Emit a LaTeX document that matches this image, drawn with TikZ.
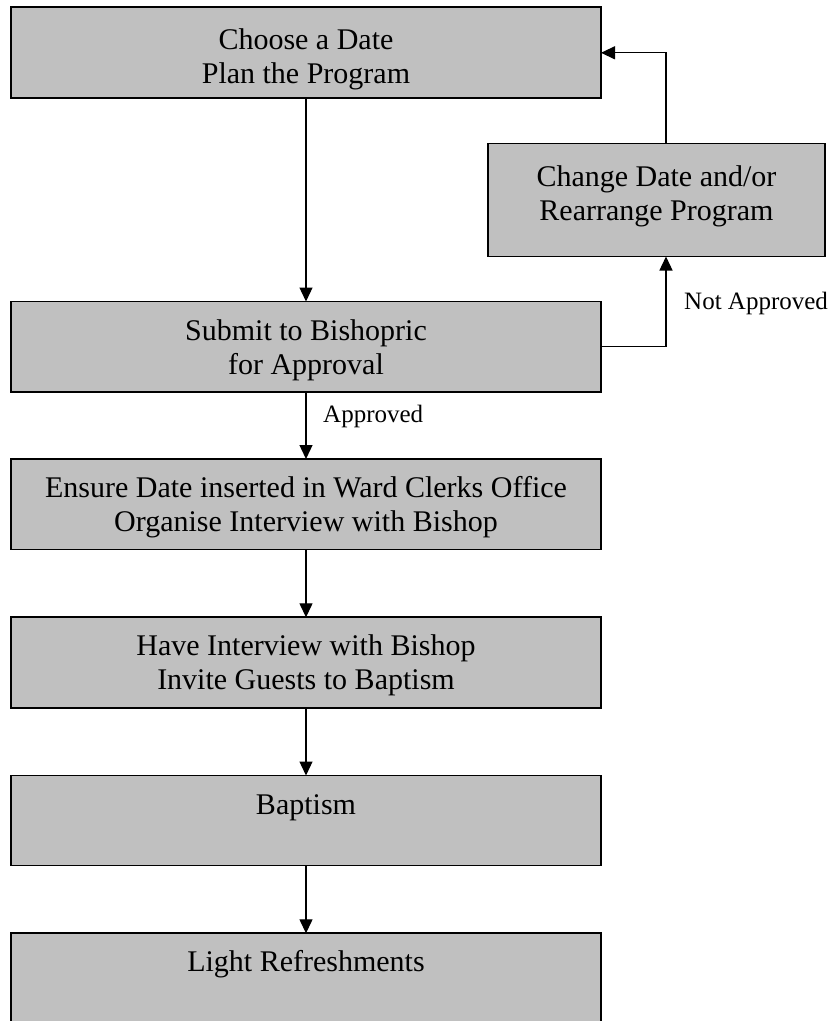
\documentclass[tikz,border=0pt]{standalone}
\usepackage{fontspec}
\setmainfont{Liberation Serif}
\usetikzlibrary{arrows.meta,calc}
\definecolor{boxgray}{RGB}{192,192,192}
\newcommand{\bxtext}[4][14.7pt]{\parbox[c][#3][t]{#2}{\centering\fontsize{30}{34}\selectfont\vspace*{#1}\strut #4}}
\tikzset{
  box/.style={draw=black, line width=1.8pt, fill=boxgray, inner sep=0pt, outer sep=0pt, anchor=north west},
  conn/.style={line width=1.3pt, -{Triangle[length=14pt,width=13pt]}},
  lbl/.style={font=\fontsize{25}{30}\selectfont, inner sep=0pt, anchor=west}
}
\begin{document}
\begin{tikzpicture}[x=1pt,y=-1pt]
\useasboundingbox (0,0) rectangle (833,1021);
\begin{scope}
\clip (0,0) rectangle (833,1021);
\node[box] (b1) at (11,7.3) {\bxtext[18.2pt]{590pt}{91pt}{Choose a Date\\Plan the Program}};
\node[box] (b7) at (488,143.5) {\bxtext[19pt]{337pt}{113pt}{Change Date and/or\\Rearrange Program}};
\node[box] (b2) at (11,301.5) {\bxtext{590pt}{90.5pt}{Submit to Bishopric\\for Approval}};
\node[box] (b3) at (11,459) {\bxtext{590pt}{90.5pt}{Ensure Date inserted in Ward Clerks Office\\Organise Interview with Bishop}};
\node[box] (b4) at (11,617.3) {\bxtext{590pt}{90.5pt}{Have Interview with Bishop\\Invite Guests to Baptism}};
\node[box] (b5) at (11,775.5) {\bxtext{590pt}{90pt}{Baptism}};
\node[box] (b6) at (11,933.3) {\bxtext{590pt}{92pt}{Light Refreshments}};
\coordinate (loopx) at (666,0);
\draw[conn] (b1.south) -- (b2.north);
\draw[conn] (b2.south) -- (b3.north);
\draw[conn] (b3.south) -- (b4.north);
\draw[conn] (b4.south) -- (b5.north);
\draw[conn] (b5.south) -- (b6.north);
\draw[conn] (b2.east) -| (b7.south -| loopx);
\draw[conn] (b7.north -| loopx) |- (b1.east);
\node[lbl] (lapp) at (323,416) {Approved};
\node[lbl] (lnot) at (684,303) {Not Approved};
\end{scope}
\end{tikzpicture}
\end{document}
